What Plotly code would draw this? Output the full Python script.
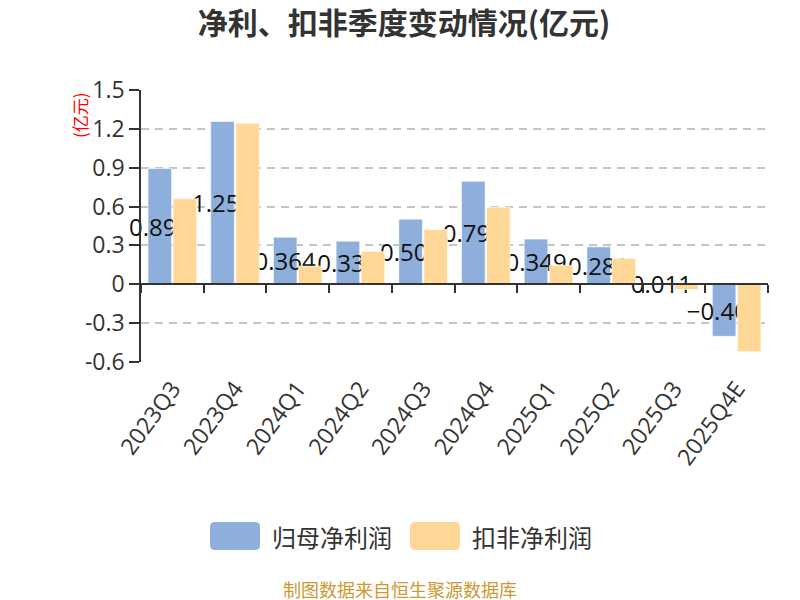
import plotly.graph_objects as go

quarters = ["2023Q3", "2023Q4", "2024Q1", "2024Q2", "2024Q3",
            "2024Q4", "2025Q1", "2025Q2", "2025Q3", "2025Q4E"]
net_profit = [0.894, 1.257, 0.364, 0.333, 0.503, 0.795, 0.349, 0.289, 0.011, -0.402]
deducted_profit = [0.66, 1.244, 0.14, 0.254, 0.423, 0.595, 0.146, 0.20, -0.04, -0.52]
y_ticks = [-0.6, -0.3, 0, 0.3, 0.6, 0.9, 1.2, 1.5]
y_tick_text = ["-0.6", "-0.3", "0", "0.3", "0.6", "0.9", "1.2", "1.5"]

FONT = "Noto Sans CJK SC, Open Sans, sans-serif"
NUM_FONT = "Open Sans, Noto Sans CJK SC, sans-serif"
BLUE = "#8eaedb"
ORANGE = "#ffd897"

# the page has an 8px body margin, so the figure is shrunk by that much
OFF = 8
# plot area in page pixels (used to place the hand-made legend)
L, R, T, B = 141, 768, 90, 362


def px_x(p):
    return (p - L) / (R - L)


def px_y(p):
    return (B - p) / (B - T)


fig = go.Figure()

fig.add_trace(go.Bar(
    x=quarters, y=net_profit, name="归母净利润",
    marker=dict(color=BLUE, line=dict(color="rgba(255,255,255,0.6)", width=1)),
    texttemplate="%{y}", textposition="inside", insidetextanchor="middle",
    constraintext="none", textangle=0,
    textfont=dict(size=24, color="#111", family=NUM_FONT),
    cliponaxis=False, showlegend=False,
))
fig.add_trace(go.Bar(
    x=quarters, y=deducted_profit, name="扣非净利润",
    marker=dict(color=ORANGE, line=dict(color="rgba(255,255,255,0.6)", width=1)),
    showlegend=False,
))
# helper trace so the zero-line axis with boundary ticks gets drawn
fig.add_trace(go.Scatter(
    x=quarters, y=[None] * len(quarters), xaxis="x2",
    mode="markers", showlegend=False, hoverinfo="skip",
))

fig.update_layout(
    width=800 - OFF, height=600 - OFF,
    margin=dict(l=L - OFF, r=800 - R, t=T - OFF, b=600 - B),
    paper_bgcolor="white", plot_bgcolor="white",
    font=dict(family=FONT, color="#333"),
    title=dict(text="<b>净利、扣非季度变动情况(亿元)</b>", x=0.5, xanchor="center",
               y=1 - (23 - OFF) / (600 - OFF), yanchor="middle",
               font=dict(size=30, color="#333", family=FONT)),
    barmode="group", bargap=0.2, bargroupgap=0.06,
    xaxis=dict(
        type="category", categoryorder="array", categoryarray=quarters,
        range=[-0.5, len(quarters) - 0.5],
        showline=False, showgrid=False, zeroline=False,
        tickangle=-54, ticks="outside", ticklen=3, tickcolor="rgba(0,0,0,0)",
        tickfont=dict(size=23, color="#333", family=NUM_FONT),
    ),
    xaxis2=dict(
        type="category", categoryorder="array", categoryarray=quarters,
        range=[-0.5, len(quarters) - 0.5],
        overlaying="x", anchor="free", position=0.6 / 2.1,
        showline=True, linecolor="#333", linewidth=1.5,
        ticks="outside", tickson="boundaries", ticklen=8, tickwidth=1.5,
        tickcolor="#333", showticklabels=False, showgrid=False, zeroline=False,
    ),
    yaxis=dict(
        range=[-0.6, 1.5], tickvals=y_ticks, ticktext=y_tick_text,
        showline=True, linecolor="#333", linewidth=1.5,
        ticks="outside", ticklen=10, tickcolor="#333", tickwidth=1.5,
        showgrid=True, gridcolor="#c4c4c4", griddash="8px,6px", gridwidth=1.6,
        zeroline=False, tickfont=dict(size=23, color="#333", family=NUM_FONT),
    ),
)

# y-axis unit label
fig.add_annotation(text="(亿元)", xref="paper", yref="paper",
                   x=px_x(79), y=px_y(115), xanchor="center", yanchor="middle",
                   textangle=-90, showarrow=False,
                   font=dict(size=17, color="red", family=FONT))

# legend drawn by hand so the swatches match the large rounded blocks
swatch = ("M-20,-14 L20,-14 Q25,-14 25,-9 L25,9 Q25,14 20,14 L-20,14 "
          "Q-25,14 -25,9 L-25,-9 Q-25,-14 -20,-14 Z")
for cx, tx, color, label in [(235, 270, BLUE, "归母净利润"), (435, 470, ORANGE, "扣非净利润")]:
    fig.add_shape(type="path", path=swatch, xref="paper", yref="paper",
                  xsizemode="pixel", ysizemode="pixel",
                  xanchor=px_x(cx), yanchor=px_y(536),
                  fillcolor=color, line=dict(width=0))
    fig.add_annotation(text=label, xref="paper", yref="paper",
                       x=px_x(tx), y=px_y(536), xanchor="left", yanchor="middle",
                       showarrow=False, font=dict(size=24, color="#333", family=FONT))

fig.add_annotation(text="制图数据来自恒生聚源数据库", xref="paper", yref="paper",
                   x=px_x(400), y=px_y(589), xanchor="center", yanchor="middle",
                   showarrow=False, font=dict(size=18, color="#cc9933", family=FONT))

fig.write_html("out.html")
